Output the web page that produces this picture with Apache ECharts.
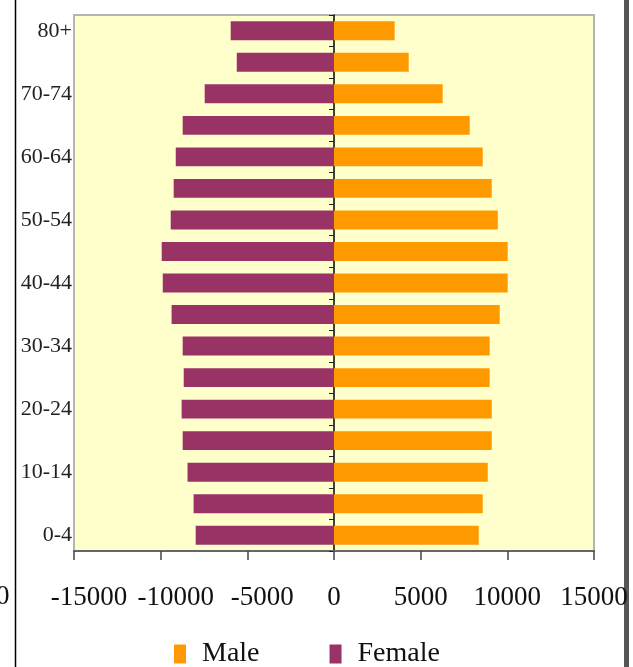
<!DOCTYPE html>
<html lang="en">
<head>
    <meta charset="UTF-8">
    <title>Population pyramid</title>
    <script src="https://cdnjs.cloudflare.com/ajax/libs/echarts/6.0.0/echarts.min.js"></script>
    <style>
        * { margin: 0; padding: 0; box-sizing: border-box; }
        body { background: #fff; }
        #chart { width: 633px; height: 667px; }
    </style>
</head>
<body>
    <div id="chart"></div>
    <script>
        // age bands, bottom to top
        const ageGroups = ['0-4', '5-9', '10-14', '15-19', '20-24', '25-29', '30-34', '35-39',
            '40-44', '45-49', '50-54', '55-59', '60-64', '65-69', '70-74', '75-79', '80+'];
        const male = [8350, 8580, 8870, 9100, 9100, 8980, 8980, 9560, 10020, 10020,
            9450, 9100, 8580, 7830, 6270, 4310, 3500];
        const female = [7980, 8100, 8450, 8730, 8790, 8670, 8730, 9370, 9880, 9940,
            9420, 9250, 9130, 8730, 7460, 5610, 5960];
        const xTicks = [-15000, -10000, -5000, 0, 5000, 10000, 15000];

        const serif = "'Liberation Serif', 'DejaVu Serif', serif";
        const chart = echarts.init(document.getElementById('chart'));

        const option = {
            animation: false,
            grid: {
                left: 74, right: 39, top: 15, bottom: 116,
                show: true, backgroundColor: '#FFFFCC',
                borderColor: '#b4b4b4', borderWidth: 2
            },
            legend: {
                data: ['Male', 'Female'],
                left: 169, top: 635,
                icon: 'rect', itemWidth: 12, itemHeight: 19, itemGap: 70,
                textStyle: { fontFamily: serif, fontSize: 28, color: '#111', padding: [0, 0, 0, 11] }
            },
            xAxis: {
                type: 'value',
                min: xTicks[0], max: xTicks[xTicks.length - 1], interval: 5000,
                splitLine: { show: false },
                axisLine: { show: true, lineStyle: { color: '#666', width: 2 } },
                axisTick: { show: true, length: 9, lineStyle: { color: '#444', width: 1.5 } },
                axisLabel: {
                    margin: 33,
                    fontFamily: serif, fontSize: 27, color: '#111',
                    formatter: v => v < 0 ? '{n|' + v + '}' : String(v),
                    rich: { n: { fontFamily: serif, fontSize: 27, color: '#111', padding: [0, 0, 0, 30] } }
                }
            },
            yAxis: [{
                type: 'category', data: ageGroups,
                axisLine: { show: false, onZero: false },
                axisTick: { show: false },
                axisLabel: { interval: 1, margin: 2, fontFamily: serif, fontSize: 22, color: '#222' }
            }, {
                type: 'category', data: ageGroups, position: 'left',
                axisLine: { show: true, onZero: true, lineStyle: { color: '#000', width: 1.5 } },
                axisTick: { show: true, interval: 0, length: 5, lineStyle: { color: '#222' } },
                axisLabel: { show: false }
            }],
            series: [{
                name: 'Male', type: 'bar', stack: 'pop',
                data: male, barCategoryGap: '40%',
                itemStyle: { color: '#FF9900' }
            }, {
                name: 'Female', type: 'bar', stack: 'pop',
                data: female.map(v => -v), barCategoryGap: '40%',
                itemStyle: { color: '#993366' }
            }],
            graphic: [
                { type: 'line', shape: { x1: 15.5, y1: 0, x2: 15.5, y2: 667 }, style: { stroke: '#000', lineWidth: 1.5 } },
                { type: 'rect', shape: { x: 624, y: 0, width: 5, height: 667 }, style: { fill: '#555' } },
                { type: 'text', left: -4, top: 583, style: { text: '0', font: "27px 'Liberation Serif'", fill: '#111' } }
            ]
        };
        chart.setOption(option);
    </script>
</body>
</html>
